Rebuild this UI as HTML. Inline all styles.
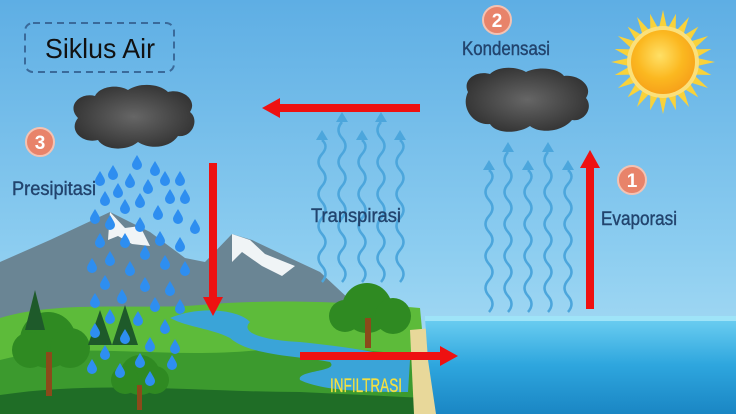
<!DOCTYPE html>
<html><head><meta charset="utf-8"><style>
html,body{margin:0;padding:0;width:736px;height:414px;overflow:hidden}
svg{display:block}
text{font-family:"Liberation Sans",sans-serif}
</style></head><body>
<svg width="736" height="414" viewBox="0 0 736 414" xmlns="http://www.w3.org/2000/svg">
<defs>
<linearGradient id="sky" x1="0" y1="0" x2="0" y2="1">
<stop offset="0" stop-color="#5eaee4"/><stop offset="0.6" stop-color="#8ccdf0"/><stop offset="1" stop-color="#b4e2f6"/></linearGradient>
<linearGradient id="sea" x1="0" y1="0" x2="0" y2="1">
<stop offset="0" stop-color="#6fd0f2"/><stop offset="0.5" stop-color="#2ea6de"/><stop offset="1" stop-color="#1a86c4"/></linearGradient>
<radialGradient id="cloud" cx="0.5" cy="0.5" r="0.6">
<stop offset="0" stop-color="#666"/><stop offset="1" stop-color="#2e2e2e"/></radialGradient>
<radialGradient id="sun" cx="0.45" cy="0.4" r="0.6">
<stop offset="0" stop-color="#ffe066"/><stop offset="0.6" stop-color="#fbb820"/><stop offset="1" stop-color="#f7a21a"/></radialGradient>
<g id="drop"><path d="M0,-7 C3,-2 5,1 5,3 A5,5 0 0 1 -5,3 C-5,1 -3,-2 0,-7Z" fill="#2e8ef0"/></g>
<g id="ah"><path d="M0,-8 L6,2 L-6,2Z" fill="#4ca6dc"/></g>
</defs>
<rect width="736" height="414" fill="url(#sky)"/>
<!-- sun -->
<g transform="translate(663,62)">
<g fill="#f9d23a">
<path d="M0,-52 L4,-34 L-4,-34Z" /><path d="M0,52 L4,34 L-4,34Z"/><path d="M-52,0 L-34,4 L-34,-4Z"/><path d="M52,0 L34,4 L34,-4Z"/>
<g transform="rotate(15)"><path d="M0,-50 L4,-34 L-4,-34Z"/><path d="M0,50 L4,34 L-4,34Z"/><path d="M-50,0 L-34,4 L-34,-4Z"/><path d="M50,0 L34,4 L34,-4Z"/></g>
<g transform="rotate(30)"><path d="M0,-52 L4,-34 L-4,-34Z"/><path d="M0,52 L4,34 L-4,34Z"/><path d="M-52,0 L-34,4 L-34,-4Z"/><path d="M52,0 L34,4 L34,-4Z"/></g>
<g transform="rotate(45)"><path d="M0,-50 L4,-34 L-4,-34Z"/><path d="M0,50 L4,34 L-4,34Z"/><path d="M-50,0 L-34,4 L-34,-4Z"/><path d="M50,0 L34,4 L34,-4Z"/></g>
<g transform="rotate(60)"><path d="M0,-52 L4,-34 L-4,-34Z"/><path d="M0,52 L4,34 L-4,34Z"/><path d="M-52,0 L-34,4 L-34,-4Z"/><path d="M52,0 L34,4 L34,-4Z"/></g>
<g transform="rotate(75)"><path d="M0,-50 L4,-34 L-4,-34Z"/><path d="M0,50 L4,34 L-4,34Z"/><path d="M-50,0 L-34,4 L-34,-4Z"/><path d="M50,0 L34,4 L34,-4Z"/></g>
</g>
<circle r="36" fill="#fbe07a"/><circle r="32" fill="url(#sun)"/>
</g>
<!-- title -->
<rect x="25" y="23" width="149" height="49" rx="8" fill="none" stroke="#3a6a9a" stroke-width="2" stroke-dasharray="7,5"/>
<text x="45" y="58" font-size="28" fill="#111" textLength="110" lengthAdjust="spacingAndGlyphs">Siklus Air</text>
<!-- clouds -->
<g fill="url(#cloud)">
<path d="M78,118 C66,106 80,92 95,96 C100,86 118,84 128,90 C140,82 160,84 168,92 C182,88 198,100 190,112 C200,120 192,138 178,136 C170,148 150,150 138,142 C126,152 104,150 98,140 C82,144 68,130 78,118Z"/>
<path d="M468,92 C462,80 476,70 490,74 C498,66 516,66 526,72 C538,66 558,68 564,76 C578,74 594,86 586,98 C594,108 584,122 572,120 C562,132 540,134 530,126 C518,134 496,134 490,124 C474,126 460,108 468,92Z"/>
</g>
<!-- badges -->
<g font-weight="bold" font-size="19" fill="#fff" text-anchor="middle">
<circle cx="497" cy="20" r="14" fill="#e8836a" stroke="#f4c2b2" stroke-width="2"/><text x="497" y="27">2</text>
<circle cx="632" cy="180" r="14" fill="#e8836a" stroke="#f4c2b2" stroke-width="2"/><text x="632" y="187">1</text>
<circle cx="40" cy="142" r="14" fill="#e8836a" stroke="#f4c2b2" stroke-width="2"/><text x="40" y="149">3</text>
<circle cx="280" cy="372" r="13" fill="#e8836a" stroke="#f4c2b2" stroke-width="2"/><text x="280" y="379">4</text>
</g>
<!-- mountains -->
<path d="M0,262 L50,240 L110,212 L150,232 L185,258 L205,262 L232,234 L252,240 L290,258 L320,272 L350,300 L380,320 L0,330Z" fill="#6a8594"/>
<path d="M110,212 L125,228 L140,226 L150,246 L132,244 L118,236 L108,240Z M232,234 L250,240 L265,254 L295,266 L282,276 L262,266 L242,252 L232,262Z" fill="#f0f4f6"/>
<!-- land -->
<path d="M0,318 C60,300 140,310 200,305 C260,300 320,300 420,308 L430,414 L0,414Z" fill="#5dbb3a"/>
<path d="M0,360 C80,340 160,360 260,350 C330,344 380,352 420,356 L425,414 L0,414Z" fill="#3c9a2e"/>
<path d="M0,395 C100,380 200,392 300,392 L425,398 L430,414 L0,414Z" fill="#1f6d26"/>
<path d="M170,318 C200,305 240,310 250,322 C240,332 260,340 300,342 C340,346 380,352 410,360 L408,392 C360,392 320,390 300,380 C296,370 340,372 330,362 C300,356 250,356 230,338 C210,328 190,328 170,318Z" fill="#3aa4d8"/>
<path d="M410,330 L432,328 L436,414 L414,414Z" fill="#e8d89a"/>
<!-- sea -->
<path d="M425,318 L736,316 L736,414 L436,414 L428,360Z" fill="url(#sea)"/>
<rect x="425" y="316" width="311" height="5" fill="#9fe4f8"/>
<!-- trees -->
<g fill="#2f8a22">
<circle cx="48" cy="340" r="28"/><circle cx="30" cy="350" r="18"/><circle cx="70" cy="348" r="20"/>
<circle cx="140" cy="375" r="20"/><circle cx="125" cy="380" r="14"/><circle cx="155" cy="380" r="14"/>
<circle cx="367" cy="308" r="25"/><circle cx="345" cy="316" r="16"/><circle cx="393" cy="316" r="18"/>
</g>
<g fill="#8b4a1a"><rect x="46" y="352" width="6" height="44"/><rect x="137" y="385" width="5" height="25"/><rect x="365" y="318" width="6" height="30"/></g>
<g fill="#1e5a2a"><path d="M35,290 L45,330 L25,330Z"/><path d="M100,310 L112,345 L88,345Z"/><path d="M125,305 L138,345 L112,345Z"/></g>
<!-- rain drops -->
<g>
<use href="#drop" x="137" y="162"/><use href="#drop" x="113" y="172"/><use href="#drop" x="155" y="168"/><use href="#drop" x="165" y="178"/><use href="#drop" x="100" y="178"/><use href="#drop" x="130" y="180"/><use href="#drop" x="148" y="186"/><use href="#drop" x="118" y="190"/><use href="#drop" x="180" y="178"/><use href="#drop" x="105" y="198"/><use href="#drop" x="140" y="200"/><use href="#drop" x="170" y="196"/><use href="#drop" x="185" y="196"/><use href="#drop" x="125" y="206"/><use href="#drop" x="95" y="216"/><use href="#drop" x="158" y="212"/><use href="#drop" x="178" y="216"/><use href="#drop" x="110" y="222"/><use href="#drop" x="140" y="224"/><use href="#drop" x="195" y="226"/><use href="#drop" x="100" y="240"/><use href="#drop" x="125" y="240"/><use href="#drop" x="160" y="238"/><use href="#drop" x="180" y="244"/><use href="#drop" x="145" y="252"/><use href="#drop" x="110" y="258"/><use href="#drop" x="92" y="265"/><use href="#drop" x="130" y="268"/><use href="#drop" x="165" y="262"/><use href="#drop" x="185" y="268"/><use href="#drop" x="105" y="282"/><use href="#drop" x="145" y="284"/><use href="#drop" x="170" y="288"/><use href="#drop" x="122" y="296"/><use href="#drop" x="95" y="300"/><use href="#drop" x="155" y="304"/><use href="#drop" x="180" y="306"/><use href="#drop" x="110" y="316"/><use href="#drop" x="138" y="318"/><use href="#drop" x="165" y="326"/><use href="#drop" x="95" y="330"/><use href="#drop" x="125" y="336"/><use href="#drop" x="150" y="344"/><use href="#drop" x="175" y="346"/><use href="#drop" x="105" y="352"/><use href="#drop" x="140" y="360"/><use href="#drop" x="172" y="362"/><use href="#drop" x="120" y="370"/><use href="#drop" x="92" y="366"/><use href="#drop" x="150" y="378"/>
</g>
<!-- wavy arrows -->
<g fill="none" stroke="#4ca6dc" stroke-width="2.5">
<path d="M489,312 q7,-8 0,-16 t0,-16 t0,-16 t0,-16 t0,-16 t0,-16 t0,-16 t0,-16 t0,-14"/>
<path d="M508,312 q7,-8 0,-16 t0,-16 t0,-16 t0,-16 t0,-16 t0,-16 t0,-16 t0,-16 t0,-16 t0,-16"/>
<path d="M528,312 q7,-8 0,-16 t0,-16 t0,-16 t0,-16 t0,-16 t0,-16 t0,-16 t0,-16 t0,-14"/>
<path d="M548,312 q7,-8 0,-16 t0,-16 t0,-16 t0,-16 t0,-16 t0,-16 t0,-16 t0,-16 t0,-16 t0,-16"/>
<path d="M568,312 q7,-8 0,-16 t0,-16 t0,-16 t0,-16 t0,-16 t0,-16 t0,-16 t0,-16 t0,-14"/>
<path d="M322,282 q7,-8 0,-16 t0,-16 t0,-16 t0,-16 t0,-16 t0,-16 t0,-16 t0,-16 t0,-14"/>
<path d="M342,282 q7,-8 0,-16 t0,-16 t0,-16 t0,-16 t0,-16 t0,-16 t0,-16 t0,-16 t0,-16 t0,-16"/>
<path d="M362,282 q7,-8 0,-16 t0,-16 t0,-16 t0,-16 t0,-16 t0,-16 t0,-16 t0,-16 t0,-14"/>
<path d="M381,282 q7,-8 0,-16 t0,-16 t0,-16 t0,-16 t0,-16 t0,-16 t0,-16 t0,-16 t0,-16 t0,-16"/>
<path d="M400,282 q7,-8 0,-16 t0,-16 t0,-16 t0,-16 t0,-16 t0,-16 t0,-16 t0,-16 t0,-14"/>
</g>
<g>
<use href="#ah" x="489" y="168"/><use href="#ah" x="508" y="150"/><use href="#ah" x="528" y="168"/><use href="#ah" x="548" y="150"/><use href="#ah" x="568" y="168"/>
<use href="#ah" x="322" y="138"/><use href="#ah" x="342" y="120"/><use href="#ah" x="362" y="138"/><use href="#ah" x="381" y="120"/><use href="#ah" x="400" y="138"/>
</g>
<!-- labels -->
<g fill="#22446e" font-size="19" stroke="#22446e" stroke-width="0.4">
<text x="462" y="55" textLength="88" lengthAdjust="spacingAndGlyphs">Kondensasi</text>
<text x="601" y="225" textLength="76" lengthAdjust="spacingAndGlyphs">Evaporasi</text>
<text x="12" y="195" textLength="84" lengthAdjust="spacingAndGlyphs">Presipitasi</text>
<text x="311" y="222" textLength="90" lengthAdjust="spacingAndGlyphs">Transpirasi</text>
</g>
<!-- red arrows -->
<g fill="#ee1111">
<rect x="278" y="104" width="142" height="8"/><path d="M262,108 L280,98 L280,118Z"/>
<rect x="209" y="163" width="8" height="136"/><path d="M213,316 L203,297 L223,297Z"/>
<rect x="586" y="166" width="8" height="143"/><path d="M590,150 L580,168 L600,168Z"/>
<rect x="300" y="352" width="142" height="8"/><path d="M458,356 L440,346 L440,366Z"/>
</g>
<text x="330" y="392" font-size="19" fill="#f4e040" stroke="#f4e040" stroke-width="0.3" textLength="72" lengthAdjust="spacingAndGlyphs">INFILTRASI</text>
</svg>
</body></html>
